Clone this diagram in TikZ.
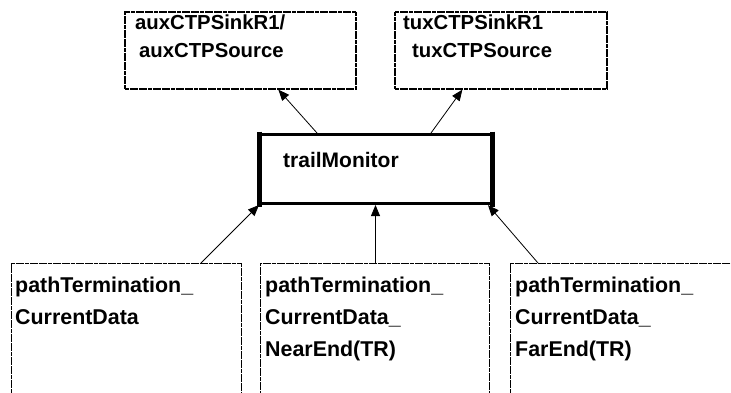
\documentclass[tikz,border=0pt]{standalone}
\usepackage{fontspec}
\setmainfont{Liberation Sans}
\usetikzlibrary{arrows.meta,calc}
\begin{document}
\begin{tikzpicture}[x=1pt,y=-1pt,
  dotbox/.style={draw=black,line width=1.3pt,dash pattern=on 4pt off 0.6pt,rectangle,inner sep=0pt},
  tmbox/.style={draw=black,line width=3pt,rectangle,inner sep=0pt},
  toplbl/.style={anchor=base west,inner sep=0pt,font=\bfseries\fontsize{20.3}{24}\selectfont},
  tmlbl/.style={anchor=base west,inner sep=0pt,font=\bfseries\fontsize{21}{25}\selectfont},
  botlbl/.style={anchor=base west,inner sep=0pt,font=\bfseries\fontsize{21.4}{26}\selectfont},
  conn/.style={line width=0.8pt,-{Triangle[length=11pt,width=9pt]}}]
\useasboundingbox (0,0) rectangle (731,392);
\clip (0,0) rectangle (731,392);
% boxes
\node[dotbox,minimum width=231pt,minimum height=77pt] (A) at (240.5,50.5) {};
\node[dotbox,minimum width=212pt,minimum height=77pt] (B) at (501,50.5) {};
\node[tmbox,minimum width=232pt,minimum height=69pt] (TM) at (375.5,169) {};
\draw[line width=5pt] ($(TM.north west)+(1,-1.5)$) -- ($(TM.south west)+(1,1.5)$);
\draw[line width=5pt] ($(TM.north east)+(-1,-1.5)$) -- ($(TM.south east)+(-1,1.5)$);
\node[dotbox,minimum width=230pt,minimum height=160pt,anchor=north west] (C1) at (11,263) {};
\node[dotbox,minimum width=229pt,minimum height=160pt,anchor=north west] (C2) at (260,263) {};
\node[dotbox,minimum width=230pt,minimum height=160pt,anchor=north west] (C3) at (510,263) {};
% labels
\node[toplbl] (a1) at (135,29) {auxCTPSinkR1/};
\node[toplbl] (a2) at (139,57) {auxCTPSource};
\node[toplbl] (b1) at (403,29) {tuxCTPSinkR1};
\node[toplbl] (b2) at (412,57) {tuxCTPSource};
\node[tmlbl] (tml) at (283,167) {trailMonitor};
\node[botlbl] (c11) at (15,292) {pathTermination\_};
\node[botlbl] (c12) at (15,324) {CurrentData};
\node[botlbl] (c21) at (265,292) {pathTermination\_};
\node[botlbl] (c22) at (265,324) {CurrentData\_};
\node[botlbl] (c23) at (265,356) {NearEnd(TR)};
\node[botlbl] (c31) at (515,292) {pathTermination\_};
\node[botlbl] (c32) at (515,324) {CurrentData\_};
\node[botlbl] (c33) at (515,356) {FarEnd(TR)};
% connectors
\draw[conn] ($(TM.north west)+(59,0)$) -- ($(A.south west)+(154,0)$);
\draw[conn] ($(TM.north west)+(173,0)$) -- ($(B.south west)+(68,0)$);
\draw[conn] ($(C1.north west)+(190,0)$) -- ($(TM.south west)+(1,0)$);
\draw[conn] (C2.north -| TM.south) -- (TM.south);
\draw[conn] ($(C3.north west)+(28,0)$) -- ($(TM.south east)+(-5,0)$);
\end{tikzpicture}
\end{document}
